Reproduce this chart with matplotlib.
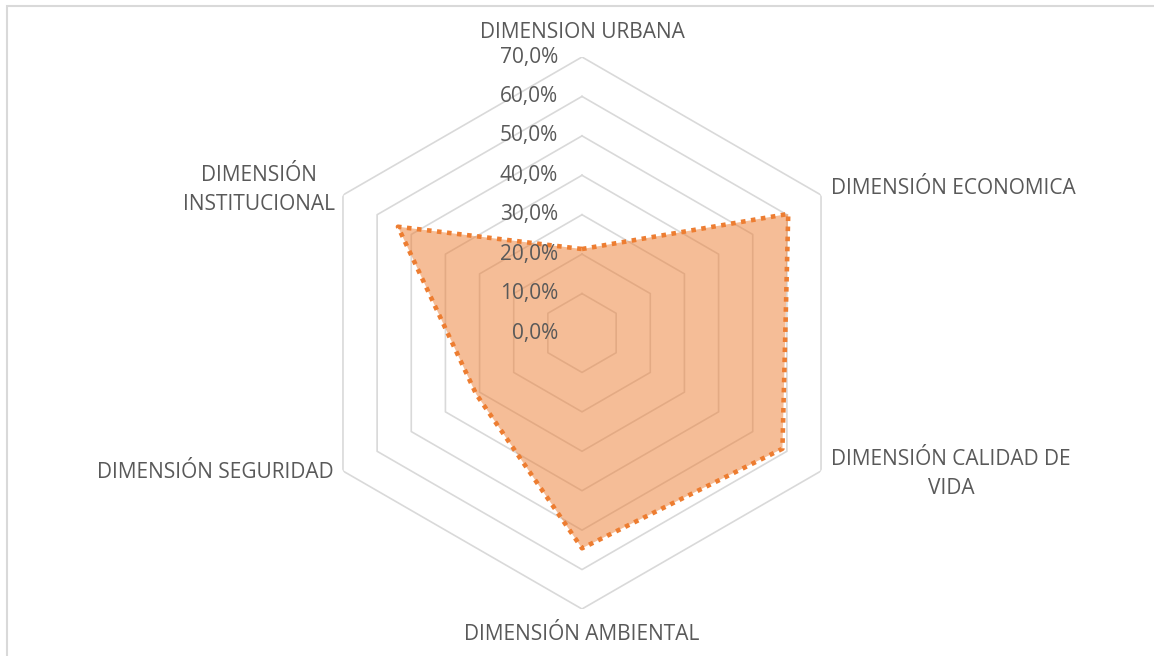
import numpy as np
import matplotlib
matplotlib.use("Agg")
import matplotlib.pyplot as plt
from matplotlib.patches import Rectangle

# data
categories = ["DIMENSION URBANA", "DIMENSIÓN ECONOMICA", "DIMENSIÓN CALIDAD DE\nVIDA",
              "DIMENSIÓN AMBIENTAL", "DIMENSIÓN SEGURIDAD", "DIMENSIÓN\nINSTITUCIONAL"]
values = [0.213, 0.604, 0.587, 0.546, 0.31, 0.539]
levels = [0.0, 0.1, 0.2, 0.3, 0.4, 0.5, 0.6, 0.7]
level_labels = ["0,0%", "10,0%", "20,0%", "30,0%", "40,0%", "50,0%", "60,0%", "70,0%"]

# label offsets in pixels from each outer vertex (ha, dx, dy)
label_pos = [("center", 0, 25), ("left", 10, 7), ("left", 10, -3),
             ("center", 0, -25), ("right", -9, -1), ("right", -8, 5)]

plt.rcParams['font.family'] = ['Open Sans', 'DejaVu Sans']
text_col = "#595959"
grid_col = "#D9D9D9"
orange = "#ED7D31"

W, H = 1154, 656
fig = plt.figure(figsize=(W / 100, H / 100), dpi=100)

# outer chart border (only top/left visible in reference)
fig.patches.append(Rectangle((6.5 / W, -0.05), 1.1, (H - 5.5) / H + 0.05, transform=fig.transFigure,
                             fill=False, edgecolor=grid_col, lw=1.5, clip_on=False))

cx, cy, R = 582, 333, 276
ax = fig.add_axes([(cx - R) / W, (H - cy - R) / H, 2 * R / W, 2 * R / H], projection="polar")
ax.set_theta_offset(np.pi / 2)
ax.set_theta_direction(-1)
ax.set_ylim(0, 0.7)
ax.grid(False)
ax.spines["polar"].set_visible(False)
ax.set_xticks([])
ax.set_yticks([])
ax.patch.set_alpha(0)

n = len(categories)
theta = np.linspace(0, 2 * np.pi, n, endpoint=False)
theta_c = np.append(theta, theta[0])

for lv in levels[1:]:
    ax.plot(theta_c, [lv] * (n + 1), color=grid_col, lw=1.2, zorder=1)

vals_c = np.append(values, values[0])
ax.fill(theta_c, vals_c, color=orange, alpha=0.5, lw=0, zorder=2)
ax.plot(theta_c, vals_c, color=orange, lw=3.3, linestyle=(0, (1, 1.2)),
        dash_capstyle="butt", zorder=3)

for lv, lab in zip(levels, level_labels):
    ax.annotate(lab, xy=(0, lv), xytext=(-24, 0), textcoords="offset pixels",
                ha="right", va="center", fontsize=15, color=text_col,
                annotation_clip=False)

for t, lab, (ha, dx, dy) in zip(theta, categories, label_pos):
    ax.annotate(lab, xy=(t, 0.7), xytext=(dx, dy), textcoords="offset pixels",
                ha=ha, va="center", multialignment="center", fontsize=15,
                color=text_col, annotation_clip=False, linespacing=1.5)

fig.savefig("out.png", dpi=100)
